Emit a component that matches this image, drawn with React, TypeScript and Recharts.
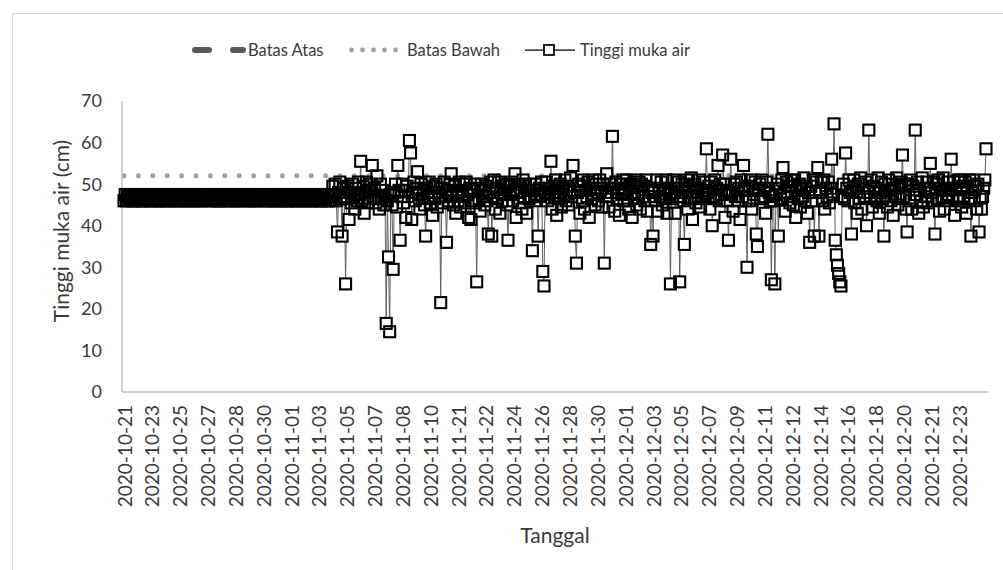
import { LineChart, Line, XAxis, YAxis, Label } from 'recharts'

// one label every 24 readings on the category axis
const tickDates = [
  '2020-10-21', '2020-10-23', '2020-10-25', '2020-10-27', '2020-10-28', '2020-10-30',
  '2020-11-01', '2020-11-03', '2020-11-05', '2020-11-07', '2020-11-08', '2020-11-10',
  '2020-11-21', '2020-11-22', '2020-11-24', '2020-11-26', '2020-11-28', '2020-11-30',
  '2020-12-01', '2020-12-03', '2020-12-05', '2020-12-07', '2020-12-09', '2020-12-11',
  '2020-12-12', '2020-12-14', '2020-12-16', '2020-12-18', '2020-12-20', '2020-12-21',
  '2020-12-23',
]
const readingsPerLabel = 24

// Tinggi muka air (cm), one row per date label
const tinggiMukaAir = [
  46, 47.5, 46, 47, 46.5, 47.5, 46, 47.5, 46, 47, 46, 47.5, 46.5, 47.5, 46, 47, 46, 47.5, 46, 47.5, 46.5, 47, 46, 47.5,
  46, 47.5, 46.5, 47.5, 46, 47, 46, 47.5, 46, 47.5, 46.5, 47, 46, 47.5, 46, 47, 46.5, 47.5, 46, 47.5, 46, 47, 46.5, 47.5,
  46, 47, 46.5, 47.5, 46, 47.5, 46, 47, 46, 47.5, 46.5, 47.5, 46, 47, 46.5, 47.5, 46, 47.5, 46, 47, 46, 47.5, 46.5, 47,
  46.5, 47.5, 46, 47, 46, 47.5, 46.5, 47.5, 46, 47, 46, 47.5, 46, 47.5, 46.5, 47, 46, 47.5, 46, 47.5, 46.5, 47, 46, 47.5,
  46, 47.5, 46, 47, 46.5, 47.5, 46, 47.5, 46.5, 47, 46, 47.5, 46, 47, 46.5, 47.5, 46, 47.5, 46, 47, 46.5, 47.5, 46, 47,
  46.5, 47, 46, 47.5, 46, 47.5, 46.5, 47, 46, 47.5, 46, 47, 46.5, 47.5, 46, 47.5, 46, 47, 46.5, 47.5, 46, 47.5, 46, 47,
  46, 47.5, 46.5, 47, 46, 47.5, 46, 47.5, 46.5, 47, 46, 47.5, 46, 47, 46.5, 47.5, 46, 47.5, 46, 47, 46.5, 47.5, 46, 47.5,
  46, 47.5, 46, 47, 46.5, 47.5, 46, 47.5, 46, 47, 46, 47.5, 49.5, 47, 50, 46, 38.5, 48, 50.5, 46.5, 37.5, 49, 47, 26,
  46.5, 49.5, 41.5, 48, 45.5, 50, 47, 44, 49, 46, 50.5, 47.5, 55.5, 46, 49.5, 43, 48, 50.5, 45.5, 48.5, 46.5, 50, 54.5, 47,
  49, 45.5, 52, 47, 44, 50, 46.5, 48.5, 45, 47, 16.5, 46, 32.5, 14.5, 47.5, 45, 29.5, 48, 50, 44.5, 54.5, 48.5, 36.5, 47,
  50, 45.5, 48.5, 42, 49.5, 47, 60.5, 57.5, 41.5, 48, 50.5, 46, 49, 53, 47.5, 44, 50, 46.5, 48.5, 45, 37.5, 49, 47, 50.5,
  45.5, 48, 42.5, 49.5, 46.5, 50, 44.5, 48, 47, 21.5, 49, 45.5, 50.5, 47, 36, 48.5, 46, 50, 52.5, 47.5, 45, 49.5, 43, 48,
  46, 50.5, 44.5, 48.5, 47, 50, 45.5, 50.5, 47.5, 42, 49, 41.5, 48.5, 46, 50, 45.5, 26.5, 49, 46.5, 43.5, 50, 47, 48.5, 45,
  49.5, 46, 38, 48, 50.5, 37.5, 47, 51, 44, 49, 46.5, 50.5, 43, 48, 46, 49.5, 47.5, 50, 45, 36.5, 49.5, 47.5, 50.5, 46,
  48.5, 52.5, 42, 48, 50, 45.5, 49, 44, 51, 47, 49.5, 43, 48.5, 46.5, 50, 47, 34, 48.5, 46, 50, 47.5, 37.5, 49, 47,
  50.5, 29, 25.5, 48, 50.5, 46, 49, 47.5, 55.5, 44, 49.5, 47, 51, 42.5, 48, 46.5, 50, 44.5, 49, 47.5, 51, 46, 49.5, 45,
  48.5, 51.5, 47, 54.5, 48, 37.5, 31, 48, 50, 43, 49.5, 46, 51, 44, 48.5, 47, 50.5, 42, 49, 46.5, 51, 47.5, 45, 50,
  48, 46, 51, 49, 44.5, 50, 31, 48, 52.5, 47, 44.5, 50, 48, 61.5, 49, 43.5, 50.5, 46.5, 49, 42.5, 50, 47.5, 51, 46,
  48, 51, 46, 44, 50, 47.5, 42, 49.5, 46.5, 51, 45, 48, 50.5, 44, 50, 47, 49.5, 46, 51, 43.5, 49, 47, 35.5, 48,
  37.5, 48.5, 46, 51, 43.5, 49, 47, 50.5, 45, 48.5, 46.5, 51, 43, 49, 47.5, 26, 48, 46.5, 51, 43, 49, 47, 50.5, 26.5,
  47, 50, 46, 35.5, 48, 51, 44, 49.5, 46.5, 51.5, 41.5, 48, 50, 45.5, 49, 47, 51, 44.5, 48.5, 46.5, 50.5, 47.5, 58.5, 48,
  49.5, 44, 50.5, 40, 47, 51, 46.5, 49, 54.5, 46, 50, 47.5, 57, 50, 42, 48.5, 46, 36.5, 48, 56, 47.5, 43.5, 50, 47,
  50.5, 46, 49, 41.5, 51, 47, 54.5, 48.5, 46, 30, 49.5, 46, 51, 44, 49, 47.5, 50.5, 38, 35, 48.5, 50, 46.5, 51, 47,
  49, 43, 50.5, 62, 48, 46, 27, 47, 46, 26, 47.5, 50, 37.5, 49, 46.5, 51, 54, 48, 43.5, 50.5, 47, 49.5, 45.5, 51,
  49.5, 45, 51, 42, 48.5, 46.5, 50, 44.5, 49, 47, 51.5, 46, 49.5, 43, 48, 36, 49.5, 46, 51, 37.5, 48, 50.5, 54, 37.5,
  48, 50.5, 46, 51, 44, 49, 47, 50.5, 45.5, 49, 56, 47.5, 64.5, 36.5, 33, 30.5, 28.5, 26.5, 25.5, 47, 50, 46.5, 57.5, 49,
  46, 51, 48, 38, 48, 51, 45.5, 49.5, 43, 50, 46.5, 51.5, 44, 49, 47, 50.5, 40, 48, 63, 47, 51, 44.5, 49.5, 46.5,
  49, 46, 51.5, 43, 48, 50.5, 46.5, 37.5, 50, 47, 44.5, 51, 48.5, 46, 50, 42.5, 49, 47, 51.5, 45, 49.5, 46.5, 50.5, 57,
  47, 50, 44, 38.5, 50, 46, 51, 44, 49.5, 47.5, 63, 47.5, 50.5, 43, 48.5, 46, 51.5, 44.5, 49, 47, 50.5, 45.5, 49, 55,
  48, 46, 50.5, 38, 50, 46.5, 51, 43.5, 49, 47, 51.5, 44, 48.5, 46, 50.5, 47.5, 49, 56, 47, 50.5, 42.5, 49, 46.5, 51,
  46, 51, 44.5, 49.5, 47, 50.5, 43, 49, 46.5, 51, 37.5, 48, 51, 46, 49.5, 44, 50, 38.5, 47, 44, 47, 49, 51, 58.5,
]

const batasAtas = 47
const batasBawah = 52
const yTicks = [0, 10, 20, 30, 40, 50, 60, 70]

const data = tinggiMukaAir.map((v, i) => ({
  date: tickDates[Math.floor(i / readingsPerLabel)],
  tinggi: v,
  atas: batasAtas,
  bawah: batasBawah,
}))

const textColor = '#3a3a3a'
const font = 'Lato, "Noto Sans", sans-serif'

// markers are drawn in two passes: white faces first, then the black outlines
const MarkerFace = (props: any) => {
  const { cx, cy, index } = props
  if (cx == null || cy == null) return <g key={`f${index}`} />
  return <rect key={`f${index}`} x={cx - 5.5} y={cy - 5.5} width={11} height={11} fill="#fff" />
}

const MarkerEdge = (props: any) => {
  const { cx, cy, index } = props
  if (cx == null || cy == null) return <g key={`e${index}`} />
  return (
    <rect
      key={`e${index}`}
      x={cx - 5.5}
      y={cy - 5.5}
      width={11}
      height={11}
      fill="none"
      stroke="#000"
      strokeWidth={2.1}
    />
  )
}

const DateTick = (props: any) => {
  const { x, y, payload } = props
  const ty = y + 13
  return (
    <text
      x={x}
      y={ty}
      transform={`rotate(-90 ${x} ${ty})`}
      textAnchor="end"
      dominantBaseline="central"
      fontSize={19}
      fill={textColor}
    >
      {payload.value}
    </text>
  )
}

const YTitle = () => (
  <text
    x={60}
    y={231}
    transform="rotate(-90 60 231)"
    textAnchor="middle"
    dominantBaseline="central"
    fontSize={21}
    fill={textColor}
  >
    Tinggi muka air (cm)
  </text>
)

const XTitle = () => (
  <text x={555} y={543} textAnchor="middle" fontSize={21} fill={textColor}>
    Tanggal
  </text>
)

function ChartLegend() {
  return (
    <svg width={1003} height={30} style={{ position: 'absolute', left: 0, top: 35 }}>
      <line x1={195} y1={15} x2={209} y2={15} stroke="#595959" strokeWidth={6} strokeLinecap="round" />
      <line x1={233} y1={15} x2={243} y2={15} stroke="#595959" strokeWidth={6} strokeLinecap="round" />
      <text x={248} y={21} fontSize={16.5} fill={textColor}>Batas Atas</text>
      {[351.5, 362.5, 373.5, 384.5, 395.5].map((cx) => (
        <circle key={cx} cx={cx} cy={15} r={2.4} fill="#a0a0a0" />
      ))}
      <text x={407} y={21} fontSize={16.5} fill={textColor}>Batas Bawah</text>
      <line x1={525} y1={15} x2={575} y2={15} stroke="#000" strokeWidth={1.25} />
      <rect x={544} y={10} width={10} height={10} fill="#fff" stroke="#000" strokeWidth={1.75} />
      <text x={580} y={21} fontSize={16.5} fill={textColor}>Tinggi muka air</text>
    </svg>
  )
}

export default function App() {
  return (
    <div
      style={{
        position: 'absolute',
        left: 0,
        top: 0,
        width: 1003,
        height: 570,
        overflow: 'hidden',
        background: '#fff',
        fontFamily: font,
      }}
    >
      <div
        style={{
          position: 'absolute',
          left: 12,
          top: 13,
          width: 1100,
          height: 700,
          border: '1px solid #d9d9d9',
        }}
      />
      <div style={{ position: 'absolute', left: 0, top: 0 }}>
        <LineChart
          width={1003}
          height={570}
          data={data}
          margin={{ top: 101, right: 15, bottom: 8, left: 0 }}
        >
          <XAxis
            dataKey="date"
            interval={readingsPerLabel - 1}
            tickLine={false}
            tickSize={0}
            tickMargin={0}
            axisLine={{ stroke: '#bfbfbf', strokeWidth: 1.5 }}
            tick={<DateTick />}
            height={170}
            padding={{ left: 2, right: 2 }}
          >
            <Label content={<XTitle />} />
          </XAxis>
          <YAxis
            domain={[0, 70]}
            ticks={yTicks}
            width={122}
            tickLine={false}
            tickSize={0}
            tickMargin={20}
            axisLine={{ stroke: '#bfbfbf', strokeWidth: 1.5 }}
            tick={{ fontSize: 18, fill: textColor }}
          >
            <Label content={<YTitle />} />
          </YAxis>
          <Line
            dataKey="atas"
            stroke="#595959"
            strokeWidth={6}
            strokeDasharray="14 22"
            strokeLinecap="round"
            dot={false}
            isAnimationActive={false}
          />
          <Line
            dataKey="bawah"
            stroke="#a0a0a0"
            strokeWidth={5}
            strokeDasharray="0 14.4"
            strokeLinecap="round"
            dot={false}
            isAnimationActive={false}
          />
          <Line
            dataKey="tinggi"
            type="linear"
            stroke="#606060"
            strokeWidth={1}
            dot={MarkerFace}
            isAnimationActive={false}
          />
          <Line
            dataKey="tinggi"
            type="linear"
            stroke="none"
            dot={MarkerEdge}
            isAnimationActive={false}
          />
        </LineChart>
      </div>
      <ChartLegend />
    </div>
  )
}
